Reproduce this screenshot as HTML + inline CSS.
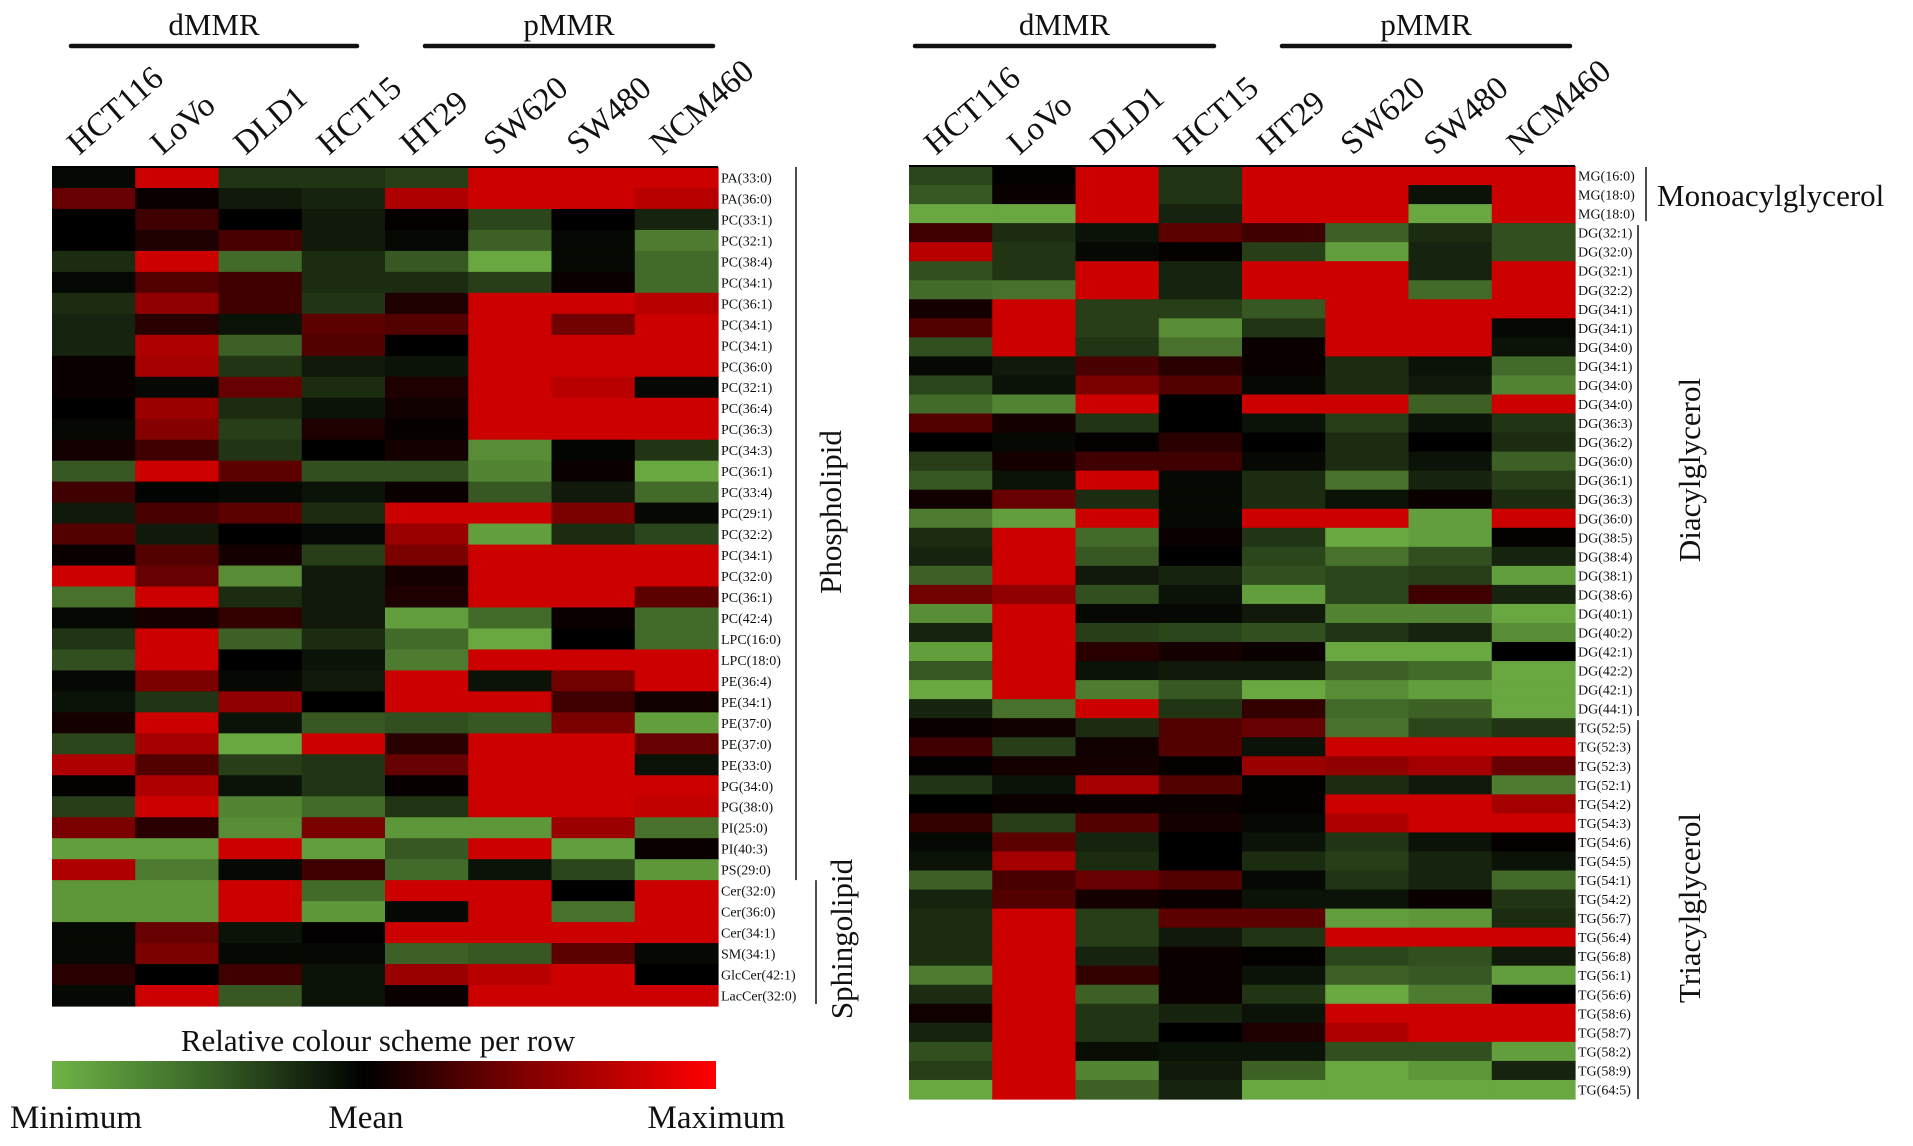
<!DOCTYPE html>
<html><head><meta charset="utf-8"><style>
html,body{margin:0;padding:0;background:#fff;}
svg text{font-family:"Liberation Serif",serif;fill:#111;}
</style></head><body>
<svg id="fig" width="1913" height="1141" viewBox="0 0 1913 1141" xmlns="http://www.w3.org/2000/svg">
<defs>
<linearGradient id="cbar" x1="0" x2="1" y1="0" y2="0">
<stop offset="0" stop-color="#6eb446"/>
<stop offset="0.22" stop-color="#3c6a2a"/>
<stop offset="0.47" stop-color="#000"/>
<stop offset="0.7" stop-color="#7a0000"/>
<stop offset="1" stop-color="#ff0000"/>
</linearGradient>
</defs>
<g id="left"></g>
<g id="right"></g>
<g>
<text x="378" y="1051" font-size="31" text-anchor="middle">Relative colour scheme per row</text>
<rect x="52" y="1061" width="664" height="28" fill="url(#cbar)"/>
<text x="10" y="1128" font-size="33">Minimum</text>
<text x="366" y="1128" font-size="33" text-anchor="middle">Mean</text>
<text x="785" y="1128" font-size="33" text-anchor="end">Maximum</text>
</g>
</svg>
<script>
const columns = ["HCT116","LoVo","DLD1","HCT15","HT29","SW620","SW480","NCM460"];
const leftRows = ["PA(33:0)","PA(36:0)","PC(33:1)","PC(32:1)","PC(38:4)","PC(34:1)","PC(36:1)","PC(34:1)","PC(34:1)","PC(36:0)","PC(32:1)","PC(36:4)","PC(36:3)","PC(34:3)","PC(36:1)","PC(33:4)","PC(29:1)","PC(32:2)","PC(34:1)","PC(32:0)","PC(36:1)","PC(42:4)","LPC(16:0)","LPC(18:0)","PE(36:4)","PE(34:1)","PE(37:0)","PE(37:0)","PE(33:0)","PG(34:0)","PG(38:0)","PI(25:0)","PI(40:3)","PS(29:0)","Cer(32:0)","Cer(36:0)","Cer(34:1)","SM(34:1)","GlcCer(42:1)","LacCer(32:0)"];
const leftValues = [
[-0.05,1,-0.3,-0.3,-0.35,1,1,1],
[0.5,0.05,-0.15,-0.2,0.85,1,1,0.9],
[0,0.3,0,-0.15,0.02,-0.4,0,-0.2],
[0,0.15,0.35,-0.15,-0.05,-0.55,-0.05,-0.7],
[-0.25,1,-0.6,-0.25,-0.5,-0.95,-0.05,-0.6],
[-0.05,0.4,0.3,-0.25,-0.25,-0.35,0.05,-0.6],
[-0.25,0.7,0.3,-0.3,0.15,1,1,0.9],
[-0.2,0.2,-0.1,0.45,0.4,1,0.55,1],
[-0.2,0.85,-0.55,0.4,0,1,1,1],
[0.05,0.8,-0.3,-0.15,-0.1,1,1,1],
[0.05,-0.05,0.5,-0.25,0.15,1,0.9,-0.05],
[0,0.75,-0.25,-0.1,0.08,1,1,1],
[-0.05,0.65,-0.35,0.15,0.03,1,1,1],
[0.1,0.3,-0.3,0,0.1,-0.8,-0.03,-0.3],
[-0.5,1,0.45,-0.45,-0.45,-0.75,0.05,-0.95],
[0.3,-0.02,-0.05,-0.1,0.05,-0.5,-0.15,-0.6],
[-0.15,0.35,0.45,-0.25,1,1,0.6,-0.05],
[0.4,-0.15,0,-0.05,0.75,-0.9,-0.25,-0.4],
[0.05,0.4,0.1,-0.35,0.6,1,1,1],
[1,0.5,-0.8,-0.15,0.1,1,1,1],
[-0.65,1,-0.25,-0.15,0.15,1,1,0.45],
[-0.05,0.1,0.25,-0.15,-0.9,-0.6,0.05,-0.6],
[-0.3,1,-0.55,-0.25,-0.6,-0.95,0,-0.6],
[-0.45,1,0,-0.1,-0.7,1,1,1],
[-0.05,0.6,-0.05,-0.15,1,-0.1,0.55,1],
[-0.1,-0.3,0.7,0,1,1,0.3,0.08],
[0.1,1,-0.1,-0.5,-0.45,-0.5,0.6,-0.9],
[-0.4,0.8,-0.95,1,0.2,1,1,0.5],
[0.85,0.4,-0.35,-0.3,0.5,1,1,-0.1],
[0.02,0.85,-0.1,-0.3,0.03,1,1,1],
[-0.35,1,-0.75,-0.6,-0.3,1,1,0.95],
[0.6,0.2,-0.8,0.6,-0.85,-0.85,0.75,-0.65],
[-0.9,-0.9,1,-0.9,-0.5,1,-0.9,0.05],
[0.85,-0.7,-0.05,0.3,-0.6,-0.1,-0.4,-0.85],
[-0.85,-0.85,1,-0.6,1,1,0,1],
[-0.85,-0.85,1,-0.85,-0.05,1,-0.65,1],
[-0.05,0.5,-0.1,0.01,1,1,1,1],
[-0.05,0.6,-0.05,-0.05,-0.55,-0.5,0.45,-0.05],
[0.2,0,0.3,-0.1,0.75,0.9,1,0],
[-0.05,1,-0.5,-0.1,0.05,1,1,1]
];
const rightRows = ["MG(16:0)","MG(18:0)","MG(18:0)","DG(32:1)","DG(32:0)","DG(32:1)","DG(32:2)","DG(34:1)","DG(34:1)","DG(34:0)","DG(34:1)","DG(34:0)","DG(34:0)","DG(36:3)","DG(36:2)","DG(36:0)","DG(36:1)","DG(36:3)","DG(36:0)","DG(38:5)","DG(38:4)","DG(38:1)","DG(38:6)","DG(40:1)","DG(40:2)","DG(42:1)","DG(42:2)","DG(42:1)","DG(44:1)","TG(52:5)","TG(52:3)","TG(52:3)","TG(52:1)","TG(54:2)","TG(54:3)","TG(54:6)","TG(54:5)","TG(54:1)","TG(54:2)","TG(56:7)","TG(56:4)","TG(56:8)","TG(56:1)","TG(56:6)","TG(58:6)","TG(58:7)","TG(58:2)","TG(58:9)","TG(64:5)"];
const rightValues = [
[-0.4,0.02,1,-0.3,1,1,1,1],
[-0.5,0.05,1,-0.3,1,1,-0.1,1],
[-0.95,-0.95,1,-0.2,1,1,-0.95,1],
[0.3,-0.25,-0.1,0.45,0.3,-0.55,-0.25,-0.45],
[0.9,-0.3,-0.05,0.02,-0.35,-0.9,-0.2,-0.45],
[-0.45,-0.3,1,-0.2,1,1,-0.2,1],
[-0.6,-0.65,1,-0.2,1,1,-0.6,1],
[0.1,1,-0.35,-0.35,-0.5,1,1,1],
[0.4,1,-0.35,-0.8,-0.3,1,1,-0.05],
[-0.45,1,-0.3,-0.65,0.05,1,1,-0.1],
[-0.05,-0.15,0.35,0.2,0.05,-0.25,-0.1,-0.6],
[-0.4,-0.1,0.6,0.4,-0.05,-0.25,-0.15,-0.75],
[-0.6,-0.75,1,0,1,1,-0.55,1],
[0.4,0.1,-0.3,0,-0.1,-0.35,-0.1,-0.3],
[0,-0.05,0.02,0.2,0,-0.25,0,-0.25],
[-0.35,0.1,0.3,0.3,-0.05,-0.25,-0.1,-0.55],
[-0.5,-0.1,1,-0.05,-0.25,-0.65,-0.2,-0.35],
[0.08,0.5,-0.25,-0.05,-0.25,-0.1,0.05,-0.25],
[-0.7,-0.9,1,-0.05,1,1,-0.9,1],
[-0.25,1,-0.6,0.05,-0.3,-0.95,-0.9,0.02],
[-0.2,1,-0.5,0,-0.4,-0.65,-0.45,-0.2],
[-0.55,1,-0.15,-0.2,-0.45,-0.4,-0.35,-0.9],
[0.55,0.7,-0.45,-0.1,-0.9,-0.4,0.3,-0.2],
[-0.8,1,-0.05,-0.05,-0.15,-0.75,-0.75,-0.95],
[-0.2,1,-0.35,-0.4,-0.45,-0.3,-0.2,-0.8],
[-0.9,1,0.2,0.1,0.05,-0.95,-0.95,0],
[-0.5,1,-0.1,-0.15,-0.15,-0.55,-0.6,-0.95],
[-0.95,1,-0.7,-0.5,-0.95,-0.8,-0.9,-0.95],
[-0.2,-0.65,1,-0.3,0.25,-0.6,-0.55,-0.95],
[0.05,0.08,-0.25,0.4,0.5,-0.65,-0.4,-0.3],
[0.3,-0.35,0.08,0.4,-0.1,1,1,1],
[0.02,0.1,0.1,0.02,0.75,0.7,0.8,0.5],
[-0.3,-0.1,0.8,0.4,0.02,-0.25,-0.15,-0.7],
[0,0.05,0.05,0.05,0.02,1,1,0.8],
[0.25,-0.35,0.4,0.1,-0.05,0.85,1,1],
[-0.05,0.45,-0.2,0,-0.1,-0.3,-0.1,0.02],
[-0.1,0.8,-0.25,0,-0.25,-0.35,-0.2,-0.1],
[-0.55,0.35,0.5,0.4,-0.05,-0.3,-0.2,-0.6],
[-0.2,0.4,0.1,0.05,-0.1,-0.1,0.05,-0.3],
[-0.25,1,-0.35,0.45,0.45,-0.9,-0.85,-0.25],
[-0.25,1,-0.35,-0.15,-0.3,1,1,1],
[-0.25,1,-0.2,0.05,0.02,-0.4,-0.45,-0.15],
[-0.7,1,0.25,0.05,-0.1,-0.55,-0.5,-0.9],
[-0.25,1,-0.55,0.05,-0.3,-0.95,-0.7,0],
[0.08,1,-0.3,-0.2,-0.1,1,1,1],
[-0.2,1,-0.3,0,0.15,0.85,1,1],
[-0.45,1,-0.08,-0.1,-0.1,-0.45,-0.45,-0.9],
[-0.35,1,-0.75,-0.15,-0.55,-0.95,-0.85,-0.2],
[-0.95,1,-0.55,-0.2,-0.95,-0.95,-0.95,-0.95]
];
const groups = ["dMMR","pMMR"];

const NS = "http://www.w3.org/2000/svg";
function colorOf(v){
  if (v >= 0) { return "rgb(" + Math.round(205*v) + ",0,0)"; }
  const t = -v;
  return "rgb(" + Math.round(110*t) + "," + Math.round(176*t) + "," + Math.round(68*t) + ")";
}
function mk(tag, attrs, parent){
  const e = document.createElementNS(NS, tag);
  for (const k in attrs) e.setAttribute(k, attrs[k]);
  parent.appendChild(e);
  return e;
}
function drawPanel(g, x0, x1, y0, y1, rows, values, labelX, barStart){
  const cw = (x1 - x0) / columns.length;
  const rh = (y1 - y0) / rows.length;
  const xScale = function(c){ return x0 + c * cw; };
  const yScale = function(r){ return y0 + r * rh; };
  values.forEach(function(row, r){
    row.forEach(function(v, c){
      const rect = mk("rect", {x: xScale(c), y: yScale(r), width: cw + 0.6, height: rh + 0.6, fill: colorOf(v)}, g);
      
      
    });
  });
  const border = mk("line", {x1: x0, x2: x1, y1: y0, y2: y0, stroke: "#000", "stroke-width": 2}, g);
  
  
  rows.forEach(function(name, r){
    const t = mk("text", {x: labelX, y: yScale(r) + rh/2 + 5, "font-size": 14}, g);
    t.textContent = name;
    
    
  });
  columns.forEach(function(name, c){
    const bx = xScale(c) + 27, by = 156;
    const t = mk("text", {x: bx, y: by, "font-size": 33, transform: "rotate(-41 " + bx + " " + by + ")"}, g);
    t.textContent = name;
    
    
  });
  const gxs = [[x0 + barStart, x0 + cw*4 - 28], [x0 + cw*4 + 40, x1 - 5]];
  groups.forEach(function(name, i){
    const ln = mk("line", {x1: gxs[i][0], x2: gxs[i][1], y1: 46, y2: 46, stroke: "#111", "stroke-width": 4.5, "stroke-linecap": "round"}, g);
    
    
    const t = mk("text", {x: (gxs[i][0] + gxs[i][1]) / 2, y: 35, "font-size": 31, "text-anchor": "middle"}, g);
    t.textContent = name;
    
    
  });
  return {yScale: yScale, rh: rh};
}
function bracket(g, x, yA, yB, label, tx, ty, rotate){
  const ln = mk("line", {x1: x, x2: x, y1: yA, y2: yB, stroke: "#222", "stroke-width": 1.6}, g);
  
  
  const attrs = {x: tx, y: ty, "font-size": 31, "text-anchor": rotate ? "middle" : "start"};
  if (rotate) attrs.transform = "rotate(-90 " + tx + " " + ty + ")";
  const t = mk("text", attrs, g);
  t.textContent = label;
  
  
}
const gl = document.getElementById("left");
const L = drawPanel(gl, 52, 718, 167, 1006, leftRows, leftValues, 721, 19);
bracket(gl, 796, 167, L.yScale(34), "Phospholipid", 841, 512, true);
bracket(gl, 816, L.yScale(34), 1004, "Sphingolipid", 852, 939, true);
const gr = document.getElementById("right");
const R = drawPanel(gr, 909, 1575, 166, 1099, rightRows, rightValues, 1578, 6);
bracket(gr, 1646, 167, R.yScale(3) - 2, "Monoacylglycerol", 1657, 206, false);
bracket(gr, 1638, R.yScale(3) + 2, R.yScale(29) - 2, "Diacylglycerol", 1700, 470, true);
bracket(gr, 1638, R.yScale(29) + 2, 1099, "Triacylglycerol", 1700, 908, true);
</script>
</body></html>
